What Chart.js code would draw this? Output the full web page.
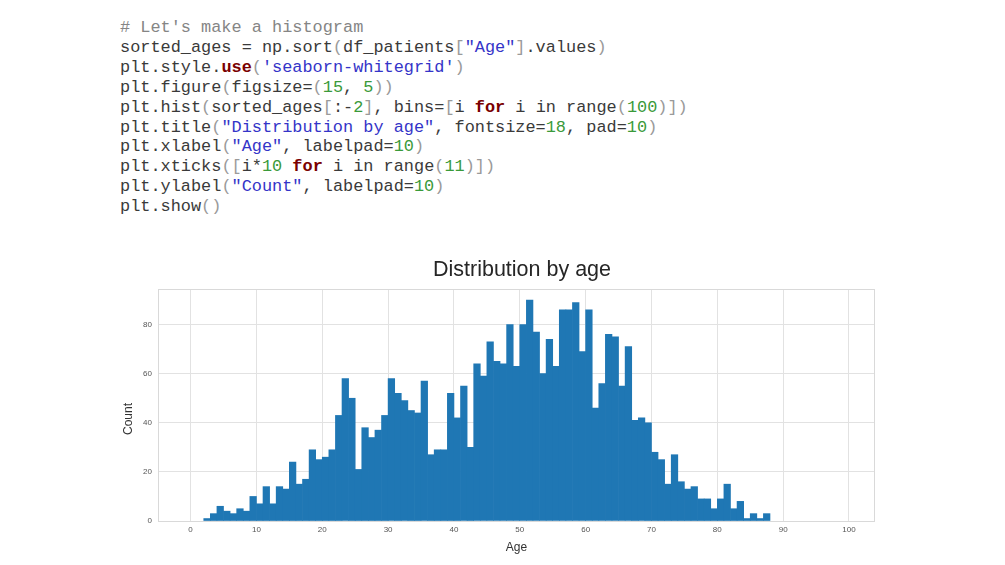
<!DOCTYPE html>
<html>
<head>
<meta charset="utf-8">
<script src="https://cdn.jsdelivr.net/npm/chart.js@4.4.1/dist/chart.umd.min.js"></script>
<style>
  html, body { margin: 0; padding: 0; background: #ffffff; width: 1005px; height: 565px; overflow: hidden; }
  #code {
    position: absolute; left: 120px; top: 18px; margin: 0;
    font-family: "Liberation Mono", "Courier New", monospace;
    font-size: 16.9px; line-height: 19.9px; color: #3a3a3a; white-space: pre;
  }
  .c { color: #858585; }
  .s { color: #3434c8; }
  .n { color: #3a9a3a; }
  .k { color: #7a0000; font-weight: bold; }
  .p { color: #9a9a9a; }
  #wrap { position: absolute; left: 100px; top: 245px; width: 800px; height: 320px; }
</style>
</head>
<body>
<div id="code"><span class="c"># Let's make a histogram</span>
sorted_ages = np.sort<span class="p">(</span>df_patients<span class="p">[</span><span class="s">"Age"</span><span class="p">]</span>.values<span class="p">)</span>
plt.style.<span class="k">use</span><span class="p">(</span><span class="s">'seaborn-whitegrid'</span><span class="p">)</span>
plt.figure<span class="p">(</span>figsize=<span class="p">(</span><span class="n">15</span>, <span class="n">5</span><span class="p">))</span>
plt.hist<span class="p">(</span>sorted_ages<span class="p">[</span>:-<span class="n">2</span><span class="p">]</span>, bins=<span class="p">[</span>i <span class="k">for</span> i in range<span class="p">(</span><span class="n">100</span><span class="p">)])</span>
plt.title<span class="p">(</span><span class="s">"Distribution by age"</span>, fontsize=<span class="n">18</span>, pad=<span class="n">10</span><span class="p">)</span>
plt.xlabel<span class="p">(</span><span class="s">"Age"</span>, labelpad=<span class="n">10</span><span class="p">)</span>
plt.xticks<span class="p">([</span>i*<span class="n">10</span> <span class="k">for</span> i in range<span class="p">(</span><span class="n">11</span><span class="p">)])</span>
plt.ylabel<span class="p">(</span><span class="s">"Count"</span>, labelpad=<span class="n">10</span><span class="p">)</span>
plt.show<span class="p">()</span></div>
<div id="wrap"><canvas id="chart" width="800" height="320"></canvas></div>
<script>
// Histogram bins (left edge of each 1-year bin)
const ageBins = [0,1,2,3,4,5,6,7,8,9,10,11,12,13,14,15,16,17,18,19,20,21,22,23,24,25,26,27,28,29,
  30,31,32,33,34,35,36,37,38,39,40,41,42,43,44,45,46,47,48,49,50,51,52,53,54,55,56,57,58,59,
  60,61,62,63,64,65,66,67,68,69,70,71,72,73,74,75,76,77,78,79,80,81,82,83,84,85,86,87,88,89,
  90,91,92,93,94,95,96,97,98];
// Count per bin
const counts = [0,0,1,3,6,4,3,5,4,10,7,14,7,14,13,24,15,17,29,25,
  26,29,43,58,50,21,38,34,37,43,58,52,49,45,44,57,27,29,29,52,
  42,55,30,64,59,73,65,64,80,63,80,90,77,60,74,63,86,86,89,69,
  86,46,56,76,75,55,71,41,42,40,28,25,15,27,16,13,14,9,9,5,
  9,15,5,8,1,3,1,3,0,0,0,0,0,0,0,0,0,0,0];
const xTicks = [0,10,20,30,40,50,60,70,80,90,100];
const yTicks = [0,20,40,60,80];
const chartTitle = "Distribution by age";
const xLabel = "Age";
const yLabel = "Count";

const points = ageBins.map((a, i) => ({ x: a + 0.5, y: counts[i] }));

const gridColor = '#e2e2e2';
const extras = {
  id: 'extras',
  afterDraw(chart) {
    const ctx = chart.ctx, a = chart.chartArea;
    ctx.save();
    ctx.strokeStyle = '#d9d9d9';
    ctx.lineWidth = 1;
    ctx.strokeRect(Math.round(a.left) + 0.5, Math.round(a.top) + 0.5,
                   Math.round(a.right - a.left) - 1, Math.round(a.bottom - a.top));
    ctx.fillStyle = '#262626';
    ctx.textAlign = 'center';
    ctx.textBaseline = 'middle';
    ctx.font = '21.5px "Liberation Sans", Arial, sans-serif';
    ctx.fillText(chartTitle, (a.left + a.right) / 2 + 5.5, a.top - 19);
    ctx.font = '12px "Liberation Sans", Arial, sans-serif';
    ctx.fillStyle = '#333333';
    ctx.translate(a.left - 29, (a.top + a.bottom) / 2 + 14);
    ctx.rotate(-Math.PI / 2);
    ctx.fillText(yLabel, 0, 0);
    ctx.restore();
  }
};

new Chart(document.getElementById('chart'), {
  type: 'bar',
  data: {
    datasets: [{
      data: points,
      backgroundColor: c => (c.raw && c.raw.y > 0) ? '#1f77b4' : 'rgba(0,0,0,0)',
      borderWidth: 0,
      barPercentage: 1.0,
      categoryPercentage: 1.0
    }]
  },
  options: {
    responsive: false,
    animation: false,
    layout: { padding: { top: 44, right: 25, left: 0, bottom: 0 } },
    plugins: { legend: { display: false }, tooltip: { enabled: false }, title: { display: false } },
    scales: {
      x: {
        type: 'linear',
        offset: false,
        min: -4.95, max: 103.95,
        afterFit: s => { s.height = 44; },
        afterBuildTicks: s => { s.ticks = xTicks.map(v => ({ value: v })); },
        ticks: { font: { size: 8, family: '"Liberation Sans", Arial, sans-serif' }, color: '#555555', padding: 4, maxRotation: 0, autoSkip: false },
        grid: { color: gridColor, drawTicks: false, lineWidth: 1, offset: false },
        border: { display: false },
        title: { display: true, text: xLabel, color: '#333333', font: { size: 12, family: '"Liberation Sans", Arial, sans-serif' }, padding: { top: 0, bottom: 10 } }
      },
      y: {
        min: 0, max: 94.5,
        afterFit: s => { s.width = 58; },
        afterBuildTicks: s => { s.ticks = yTicks.map(v => ({ value: v })); },
        ticks: { font: { size: 8, family: '"Liberation Sans", Arial, sans-serif' }, color: '#555555', padding: 6 },
        grid: { color: gridColor, drawTicks: false, lineWidth: 1 },
        border: { display: false }
      }
    }
  },
  plugins: [extras]
});
</script>
</body>
</html>
